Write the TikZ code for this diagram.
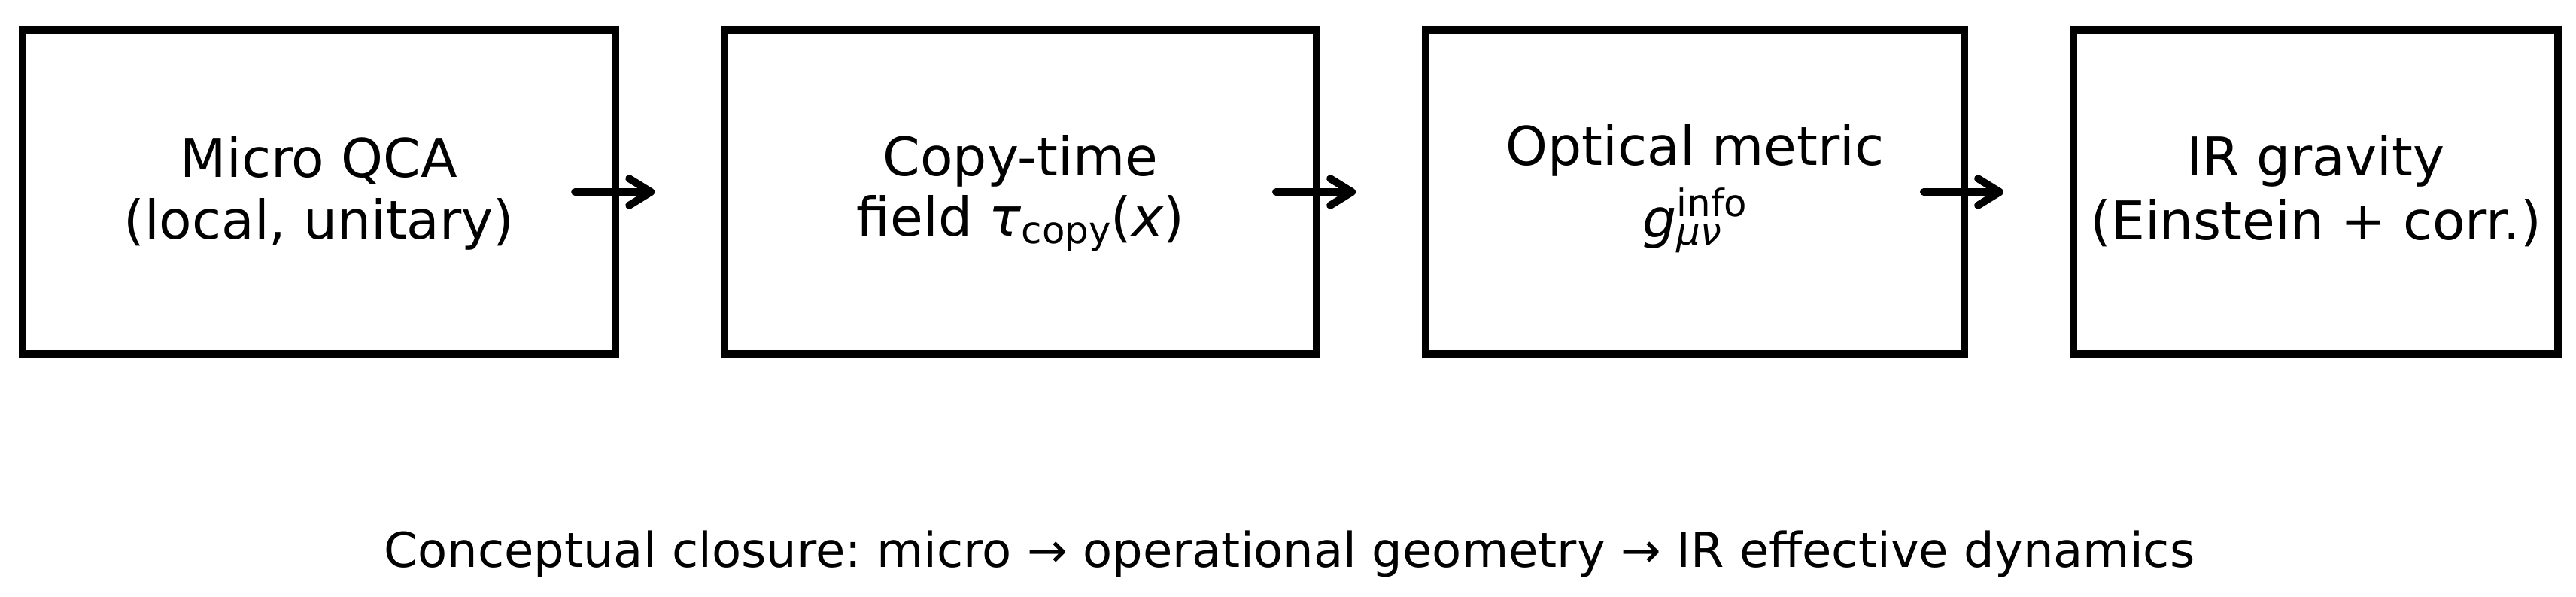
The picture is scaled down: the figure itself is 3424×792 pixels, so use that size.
\documentclass[tikz,border=0pt]{standalone}
\usepackage{fontspec}
\setmainfont{DejaVu Sans}
\usetikzlibrary{arrows.meta,calc}
\newcommand{\smallsz}{\fontsize{11.2pt}{13pt}\selectfont}
\frenchspacing
\begin{document}
\begin{tikzpicture}[x=0.225pt,y=-0.225pt,
  font=\fontsize{16pt}{18.5pt}\selectfont,
  stagebox/.style={draw=black, line width=2.25pt, rectangle, inner sep=0pt,
    minimum height=96.6pt, fill=white},
  lbl/.style={anchor=base, inner sep=0pt},
  flowarrow/.style={line width=2.25pt, line cap=round,
    -{Straight Barb[round, length=6.5pt, width=8pt]}}]
\useasboundingbox[fill=white] (0,0) rectangle (3424,792);

% boxes
\node[stagebox, minimum width=177.4pt] (b1) at (424,255) {};
\node[stagebox, minimum width=177.1pt] (b2) at (1356.5,255) {};
\node[stagebox, minimum width=161.1pt] (b3) at (2253,255) {};
\node[stagebox, minimum width=144.9pt] (b4) at (3078,255) {};

% texts
\node[lbl] (t1a) at ($(b1.center)+(0,-20)$) {Micro QCA};
\node[lbl] (t1b) at ($(b1.center)+(0,62)$) {(local, unitary)};
\node[lbl] (t2a) at ($(b2.center)+(0,-22)$) {Copy-time};
\node[lbl] (t2b) at ($(b2.center)+(0,58)$) {field {\itshape τ}\raisebox{-2.25pt}{\smallsz copy}({\itshape x})};
\node[lbl] (t3a) at ($(b3.center)+(0,-36)$) {Optical metric};
\node[lbl] (t3b) at ($(b3.center)+(0,60)$) {{\itshape g}\rlap{\raisebox{-2.25pt}{\smallsz\itshape μν}}\raisebox{6.3pt}{\smallsz info}};
\node[lbl] (t4a) at ($(b4.center)+(0,-22)$) {IR gravity};
\node[lbl] (t4b) at ($(b4.center)+(0,63)$) {(Einstein + corr.)};

% arrows
\draw[flowarrow] ($(b1.east)+(-59,0)$) -- ($(b1.east)+(47,0)$);
\draw[flowarrow] ($(b2.east)+(-59,0)$) -- ($(b2.east)+(47,0)$);
\draw[flowarrow] ($(b3.east)+(-59,0)$) -- ($(b3.east)+(47,0)$);

% caption
\node[lbl, font=\fontsize{14.4pt}{17pt}\selectfont] (cap) at (1714,753) {Conceptual closure: micro → operational geometry → IR effective dynamics};
\end{tikzpicture}
\end{document}
